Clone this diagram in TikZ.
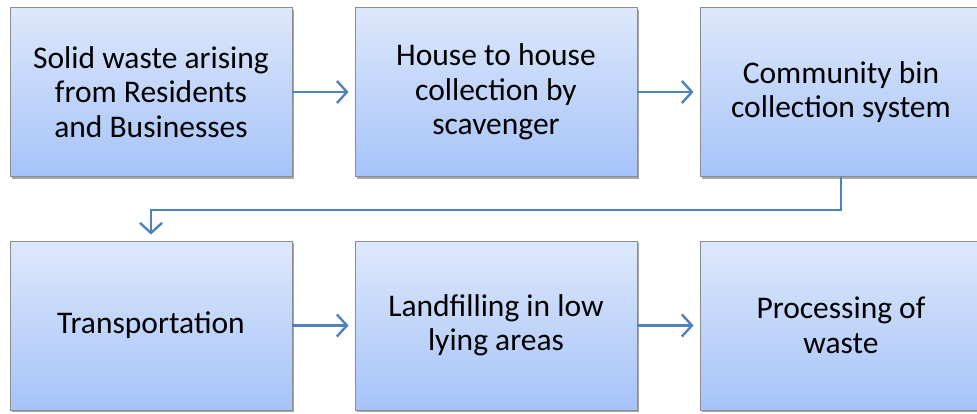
\documentclass[tikz,border=0pt]{standalone}
\usepackage{fontspec}
\setmainfont{Carlito}
\usepackage{tikz}
\usetikzlibrary{arrows.meta,shadows}
\definecolor{boxtop}{HTML}{DDE8FB}
\definecolor{boxbot}{HTML}{A6C3F9}
\definecolor{boxline}{HTML}{8C8C8C}
\definecolor{flow}{HTML}{4F81BD}
\tikzset{
    stage/.style={rectangle,draw=boxline,line width=0.9pt,top color=boxtop,bottom color=boxbot,
        minimum width=282pt,minimum height=169pt,align=center,inner sep=0pt,
        font=\fontsize{31.5}{34.5}\selectfont,
        drop shadow={shadow xshift=1.5pt,shadow yshift=-2pt,opacity=0.35,fill=black}},
    flowline/.style={draw=flow,line width=2.4pt,-{Straight Barb[length=10pt,width=22pt,line width=2.4pt]},shorten >=6pt}
}

\begin{document}
\begin{tikzpicture}[x=1pt,y=-1pt]
    \useasboundingbox (0,0) rectangle (977,413);
    \node[stage] (waste) at (151,92) {Solid waste arising\\from Residents\\and Businesses};
    \node[stage] (house) at (496,92) {House to house\\collection by\\scavenger};
    \node[stage] (bin) at (841,92) {Community bin\\collection system};
    \node[stage] (trans) at (151,325.5) {Transportation};
    \node[stage] (land) at (496,325.5) {Landfilling in low\\lying areas};
    \node[stage] (proc) at (841,325.5) {Processing of\\waste};
    \draw[flowline] (waste) -- (house);
    \draw[flowline] (house) -- (bin);
    \draw[flowline] (bin.south) -- ++(0,33) -| (trans.north);
    \draw[flowline] (trans) -- (land);
    \draw[flowline] (land) -- (proc);
\end{tikzpicture}
\end{document}
